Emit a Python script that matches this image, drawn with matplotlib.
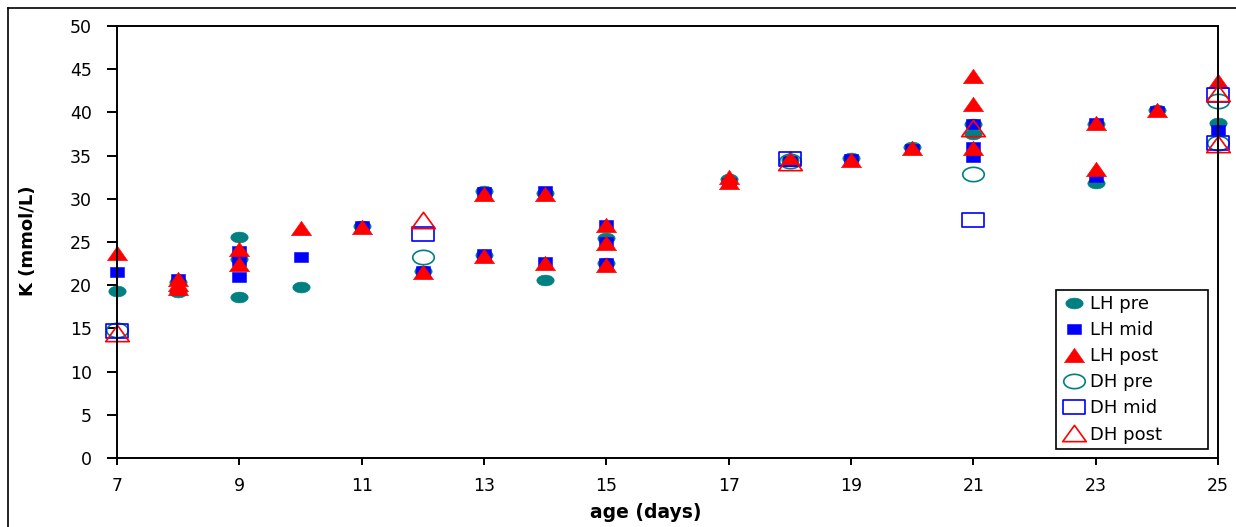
import numpy as np
import matplotlib
matplotlib.use('Agg')
import matplotlib.pyplot as plt
from matplotlib.path import Path
from matplotlib.lines import Line2D

# LH pre (filled teal)
lh_pre_day = [7, 8, 8, 9, 9, 9, 10, 11, 12, 13, 13, 14, 14, 15, 15, 17, 18, 19, 20, 21, 21, 23, 23, 24, 25]
lh_pre_k = [19.3, 19.2, 20.4, 25.6, 23.0, 18.6, 19.8, 26.8, 21.7, 30.9, 23.5, 30.7, 20.6, 25.5, 22.6,
            32.3, 34.5, 34.7, 36.0, 38.6, 37.5, 38.6, 31.8, 40.3, 38.8]

# LH mid (filled blue)
lh_mid_day = [7, 8, 9, 9, 9, 10, 11, 12, 13, 13, 14, 14, 15, 15, 15, 17, 18, 19, 20, 21, 21, 21, 23, 23, 24, 25]
lh_mid_k = [21.5, 20.7, 24.0, 22.8, 21.0, 23.3, 26.8, 21.7, 30.8, 23.6, 30.9, 22.7, 27.0, 25.0, 22.6,
            31.8, 34.4, 34.6, 35.8, 38.6, 36.0, 34.8, 38.8, 32.5, 40.2, 38.0]

# LH post (filled red)
lh_post_day = [7, 8, 8, 8, 9, 9, 10, 11, 12, 13, 13, 14, 14, 15, 15, 15, 17, 17, 18, 19, 20, 21, 21, 21, 23, 23, 24, 25]
lh_post_k = [23.7, 20.7, 20.1, 19.7, 24.2, 22.5, 26.6, 26.7, 21.5, 30.5, 23.4, 30.5, 22.6, 27.0, 24.9, 22.3,
             32.5, 32.0, 34.7, 34.5, 35.9, 44.2, 41.0, 35.9, 38.8, 33.4, 40.3, 43.6]

# DH series (open markers)
dh_pre_day = [7, 12, 18, 21, 25, 25]
dh_pre_k = [14.8, 23.3, 34.4, 32.9, 41.3, 36.5]
dh_mid_day = [7, 12, 18, 21, 25, 25]
dh_mid_k = [14.7, 25.9, 34.6, 27.5, 42.0, 36.5]
dh_post_day = [7, 12, 18, 21, 25, 25]
dh_post_k = [14.5, 27.5, 34.3, 38.2, 42.2, 36.3]

x_ticks = [7, 9, 11, 13, 15, 17, 19, 21, 23, 25]
y_ticks = [0, 5, 10, 15, 20, 25, 30, 35, 40, 45, 50]

TEAL = '#008080'
BLUE = '#0000ff'
RED = '#ff0000'


# the source chart is stretched sideways, so the markers are wide
def oval(rx):
    t = np.linspace(0, 2 * np.pi, 41)
    return Path(np.column_stack([rx * np.cos(t), np.sin(t)]), closed=True)


def box(rx):
    return Path([(-rx, -1), (rx, -1), (rx, 1), (-rx, 1), (-rx, -1)], closed=True)


def tri(rx):
    return Path([(-rx, -1), (rx, -1), (0, 1), (-rx, -1)], closed=True)


W, H = 1236, 527
fig = plt.figure(figsize=(W / 100, H / 100), dpi=100)
ax = fig.add_axes([117 / W, 1 - 458 / H, (1218 - 117) / W, (458 - 26) / H])

series = [
    ('LH pre', lh_pre_day, lh_pre_k, oval(1.6), 12.5, TEAL, TEAL),
    ('LH mid', lh_mid_day, lh_mid_k, box(1.37), 9.5, BLUE, BLUE),
    ('LH post', lh_post_day, lh_post_k, tri(1.4), 14.5, RED, RED),
    ('DH pre', dh_pre_day, dh_pre_k, oval(1.5), 15.5, 'none', TEAL),
    ('DH mid', dh_mid_day, dh_mid_k, box(1.45), 15.5, 'none', BLUE),
    ('DH post', dh_post_day, dh_post_k, tri(1.45), 17, 'none', RED),
]

for name, d, k, mk, ms, fc, ec in series:
    ax.plot(d, k, linestyle='none', marker=mk, ms=ms, mfc=fc, mec=ec,
            mew=1.2 if fc == 'none' else 0.4, clip_on=False, label=name)

ax.set_xlim(7, 25)
ax.set_ylim(0, 50)
ax.set_xticks(x_ticks)
ax.set_yticks(y_ticks)
for s in ax.spines.values():
    s.set_linewidth(1.4)
ax.tick_params(axis='y', direction='out', length=7, width=1.4, pad=11, labelsize=12.5)
ax.tick_params(axis='x', direction='out', length=5, width=1.4, pad=9, labelsize=12.5)

fig.text(28 / W, 1 - 241 / H, 'K (mmol/L)', rotation=90, ha='center', va='center',
         fontsize=13, fontweight='bold')
fig.text(646 / W, 1 - 512 / H, 'age (days)', ha='center', va='center',
         fontsize=13.5, fontweight='bold')

leg = ax.legend(loc='lower left', bbox_to_anchor=(1056 / W, 1 - 449 / H, 152 / W, 174 / H),
                bbox_transform=fig.transFigure, mode='expand', borderaxespad=0,
                fontsize=13, numpoints=1, handlelength=1.4, handletextpad=0.2,
                labelspacing=0.45, borderpad=0.3, fancybox=False, framealpha=1)
leg.get_frame().set_edgecolor('black')
leg.get_frame().set_linewidth(1.2)

# outer border of the chart area (cut off on right and bottom)
fig.add_artist(Line2D([8 / W, 8 / W], [0, 1 - 8 / H], color='black', lw=1.2, transform=fig.transFigure))
fig.add_artist(Line2D([8 / W, 1], [1 - 8 / H, 1 - 8 / H], color='black', lw=1.2, transform=fig.transFigure))

fig.savefig('out.png', dpi=100)
